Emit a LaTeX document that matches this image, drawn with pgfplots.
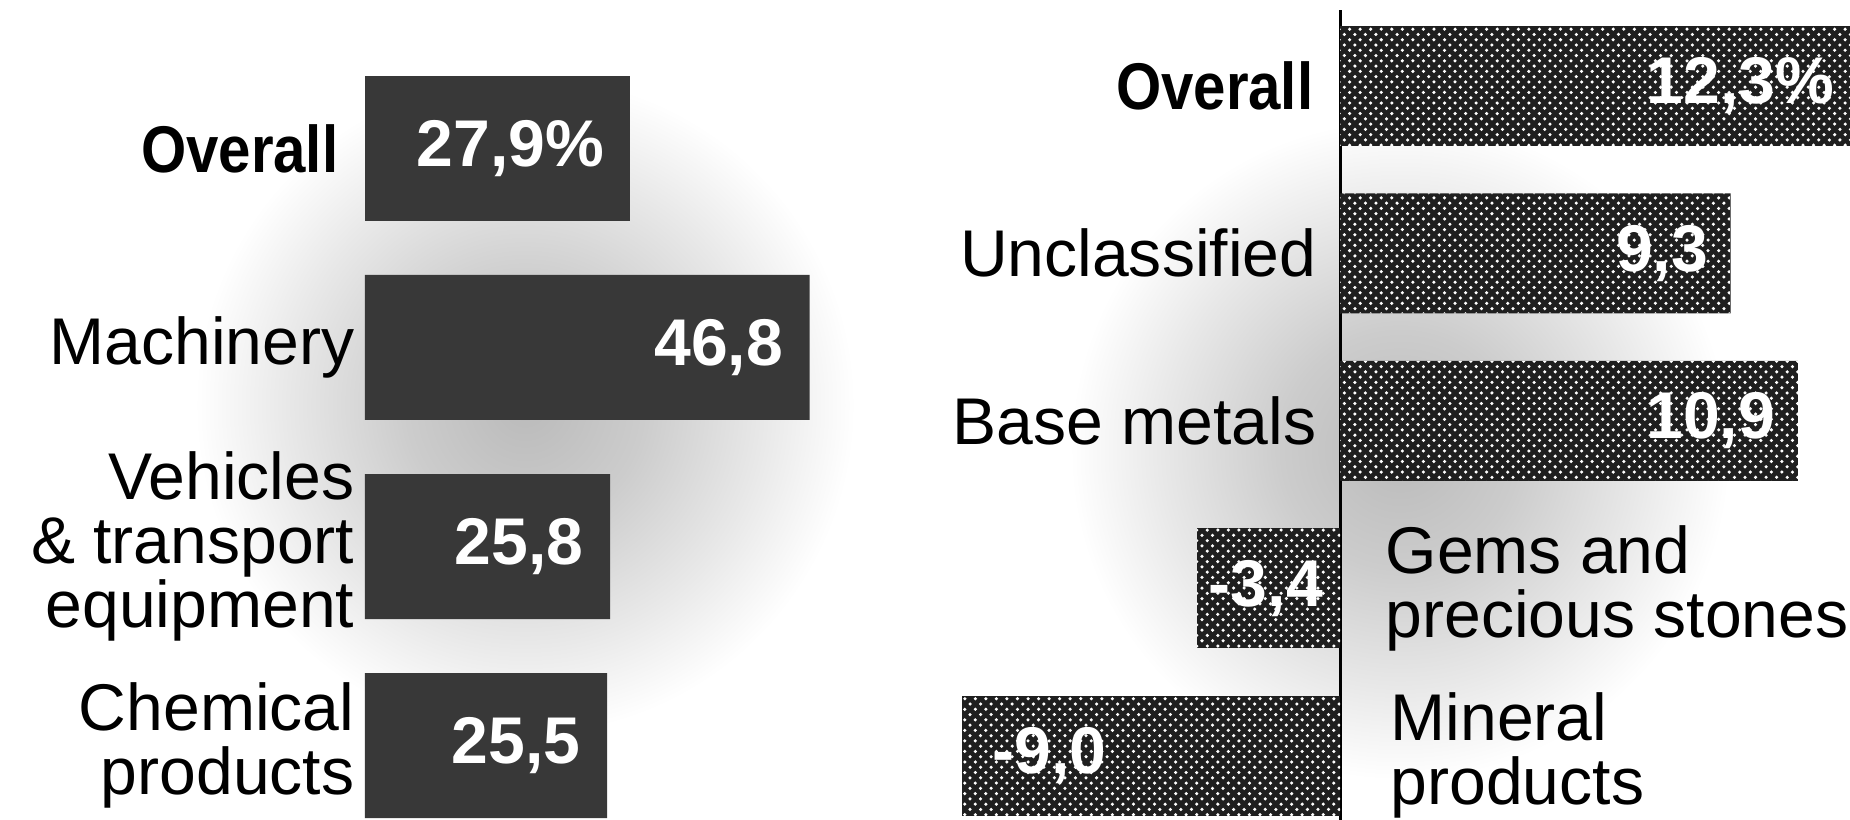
\documentclass[border=0pt]{standalone}
\usepackage{pgfplots}
\pgfplotsset{compat=1.18}
\usepackage{fontspec}
\setmainfont{Liberation Sans}
\newfontfamily\condbold[FakeStretch=0.88]{Liberation Sans Bold}
\usetikzlibrary{patterns}

\newcommand\lbl{\fontsize{18.8pt}{18.2pt}\selectfont}
\newcommand\val{\fontsize{18.8pt}{18.2pt}\selectfont\bfseries}

% soft grey halo behind each panel, fading out to white at the rim
\pgfdeclareradialshading{halo}{\pgfpointorigin}{%
  color(0bp)=(black!27); color(9bp)=(black!20); color(18bp)=(black!9); color(25bp)=(white); color(50bp)=(white)}

\pgfplotsset{
  valuelabels/.style={
    nodes near coords={\pgfmathprintnumber[fixed,fixed zerofill,precision=1,use comma,assume math mode=true]{\pgfplotspointmeta}#1},
    point meta=x,
    every node near coord/.append style={font=\val, text=white, inner sep=0pt}},
  valuelabels/.default={},
}

\begin{document}
\begin{tikzpicture}
\useasboundingbox (0,0) rectangle (185mm,82mm);
\clip (0,0) rectangle (185mm,82mm);
\shade[shading=halo] (52.5mm,41.5mm) ellipse (33mm and 33mm);
\shade[shading=halo] (140mm,37mm) ellipse (33mm and 33mm);

% ---- left panel ----
\begin{axis}[
  at={(36.5mm,0mm)}, anchor=south west,
  scale only axis, width=47.5mm, height=82mm,
  xmin=0, xmax=50, ymin=-0.374, ymax=3.746,
  xbar, bar shift=0pt, bar width=14.5mm,
  axis line style={draw=none}, tick style={draw=none},
  major tick length=0pt, xtick=\empty,
  ytick={0,1,2,3},
  yticklabels={{Chemical\\products},{Vehicles\\\& transport\\equipment},{Machinery},{\condbold Overall\hspace*{1.6mm}}},
  yticklabel style={align=right, inner sep=0pt, xshift=-1mm, font=\lbl},
]
\addplot[draw=none, fill=black!78, valuelabels=\%,
  every node near coord/.append style={anchor=east, xshift=-2.5mm}]
  coordinates {(27.9,3)};
\addplot[draw=none, fill=black!78, valuelabels,
  every node near coord/.append style={anchor=east, xshift=-2.6mm}]
  coordinates {(46.8,2) (25.8,1) (25.5,0)};
\end{axis}

% ---- right panel (runs past the right edge) ----
\begin{axis}[
  at={(89.9mm,0mm)}, anchor=south west,
  scale only axis, width=95.76mm, height=81mm,
  xmin=-10.5, xmax=12.3, ymin=-0.3826, ymax=4.452,
  xbar, bar shift=0pt, bar width=12mm,
  axis line style={draw=none}, tick style={draw=none},
  major tick length=0pt, xtick=\empty, ytick=\empty,
  extra x ticks={0}, extra x tick labels={},
  extra x tick style={grid=major, major grid style={black, line width=0.3mm}},
]
\addplot[draw=none, fill=black!88,
  postaction={pattern=crosshatch dots, pattern color=white},
  valuelabels=\%, every node near coord/.append style={anchor=east, xshift=-2.2mm}]
  coordinates {(12.3,4)};
\addplot[draw=none, fill=black!88,
  postaction={pattern=crosshatch dots, pattern color=white},
  valuelabels, every node near coord/.append style={anchor=east, xshift=-2.2mm}]
  coordinates {(9.3,3) (10.9,2)};
\addplot[draw=none, fill=black!88,
  postaction={pattern=crosshatch dots, pattern color=white},
  valuelabels, every node near coord/.append style={anchor=west, xshift=1.1mm}]
  coordinates {(-3.4,1)};
\addplot[draw=none, fill=black!88,
  postaction={pattern=crosshatch dots, pattern color=white},
  valuelabels, every node near coord/.append style={anchor=west, xshift=3mm}]
  coordinates {(-9.0,0)};

\node[anchor=east, inner sep=0pt, xshift=-2.6mm, font=\lbl] at (axis cs:0,4) {\condbold Overall};
\node[anchor=east, inner sep=0pt, xshift=-2.3mm, font=\lbl] at (axis cs:0,3) {Unclassified};
\node[anchor=east, inner sep=0pt, xshift=-2.3mm, font=\lbl] at (axis cs:0,2) {Base metals};
\node[anchor=west, inner sep=0pt, xshift=4.5mm, align=left, font=\lbl] at (axis cs:0,1) {Gems and\\precious stones};
\node[anchor=west, inner sep=0pt, xshift=5mm, align=left, font=\lbl] at (axis cs:0,0) {Mineral\\products};
\end{axis}
\end{tikzpicture}
\end{document}
